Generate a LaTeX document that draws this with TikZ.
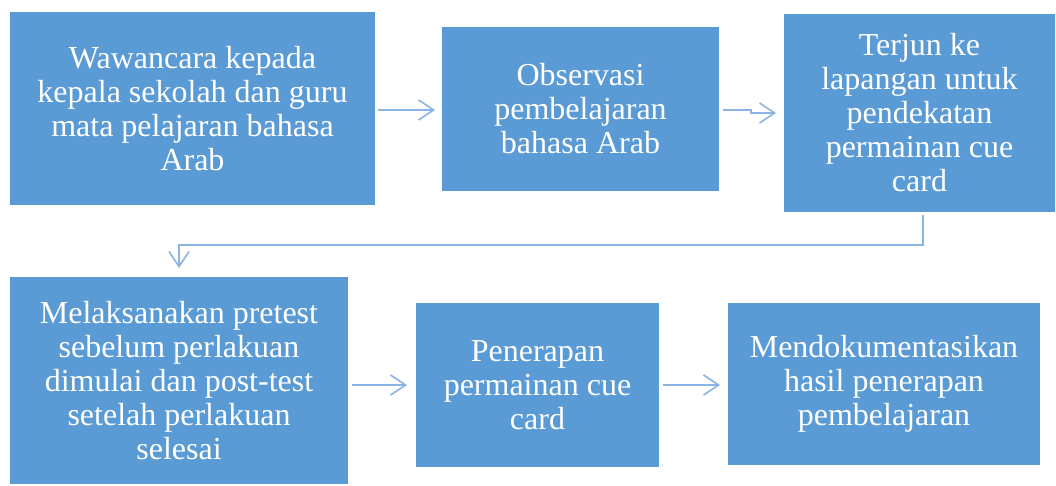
\documentclass[tikz,border=0pt]{standalone}
\usepackage{fontspec}
\setmainfont{Liberation Serif}
\usetikzlibrary{arrows.meta}
\definecolor{boxblue}{RGB}{91,155,213}
\definecolor{arrowblue}{RGB}{140,180,226}
\begin{document}
\begin{tikzpicture}[x=1pt,y=-1pt,
  box/.style={fill=boxblue,draw=none,text=white,align=center,font=\fontsize{32}{34}\selectfont},
  conn/.style={draw=arrowblue,line width=1.8pt,-{Straight Barb[length=15pt,width=20pt,line width=1.6pt]}}]
\useasboundingbox (0,0) rectangle (1056,486);
% boxes as rectangles
\path[fill=boxblue] (10,12) rectangle (375,205);
\node[box] (b1) at (192.5,108.5) {Wawancara kepada\\kepala sekolah dan guru\\mata pelajaran bahasa\\Arab};
\path[fill=boxblue] (442,27) rectangle (719,191);
\node[box] (b2) at (580.5,109) {Observasi\\pembelajaran\\bahasa Arab};
\path[fill=boxblue] (784,14) rectangle (1055,212);
\node[box] (b3) at (919.5,113) {Terjun ke\\lapangan untuk\\pendekatan\\permainan cue\\card};
\path[fill=boxblue] (10,277) rectangle (348,484);
\node[box] (b4) at (179,380.5) {Melaksanakan pretest\\sebelum perlakuan\\dimulai dan post-test\\setelah perlakuan\\selesai};
\path[fill=boxblue] (416,303) rectangle (659,467);
\node[box] (b5) at (537.5,385) {Penerapan\\permainan cue\\card};
\path[fill=boxblue] (728,303) rectangle (1040,465);
\node[box] (b6) at (884,384) {Mendokumentasikan\\hasil penerapan\\pembelajaran};
% connectors
\coordinate (a1s) at (378,110);
\coordinate (a1e) at (435,110);
\draw[conn] (a1s) -- (a1e);
\coordinate (a2s) at (723,110);
\coordinate (a2m) at (751,110);
\coordinate (a2n) at (751,113);
\coordinate (a2e) at (776,113);
\draw[conn] (a2s) -- (a2m) -- (a2n) -- (a2e);
\coordinate (a3s) at (923,215);
\coordinate (a3m) at (923,245);
\coordinate (a3n) at (179,245);
\coordinate (a3e) at (179,268);
\draw[conn] (a3s) -- (a3m) -- (a3n) -- (a3e);
\coordinate (a4s) at (352,385);
\coordinate (a4e) at (407,385);
\draw[conn] (a4s) -- (a4e);
\coordinate (a5s) at (663,385);
\coordinate (a5e) at (720,385);
\draw[conn] (a5s) -- (a5e);
\end{tikzpicture}
\end{document}
